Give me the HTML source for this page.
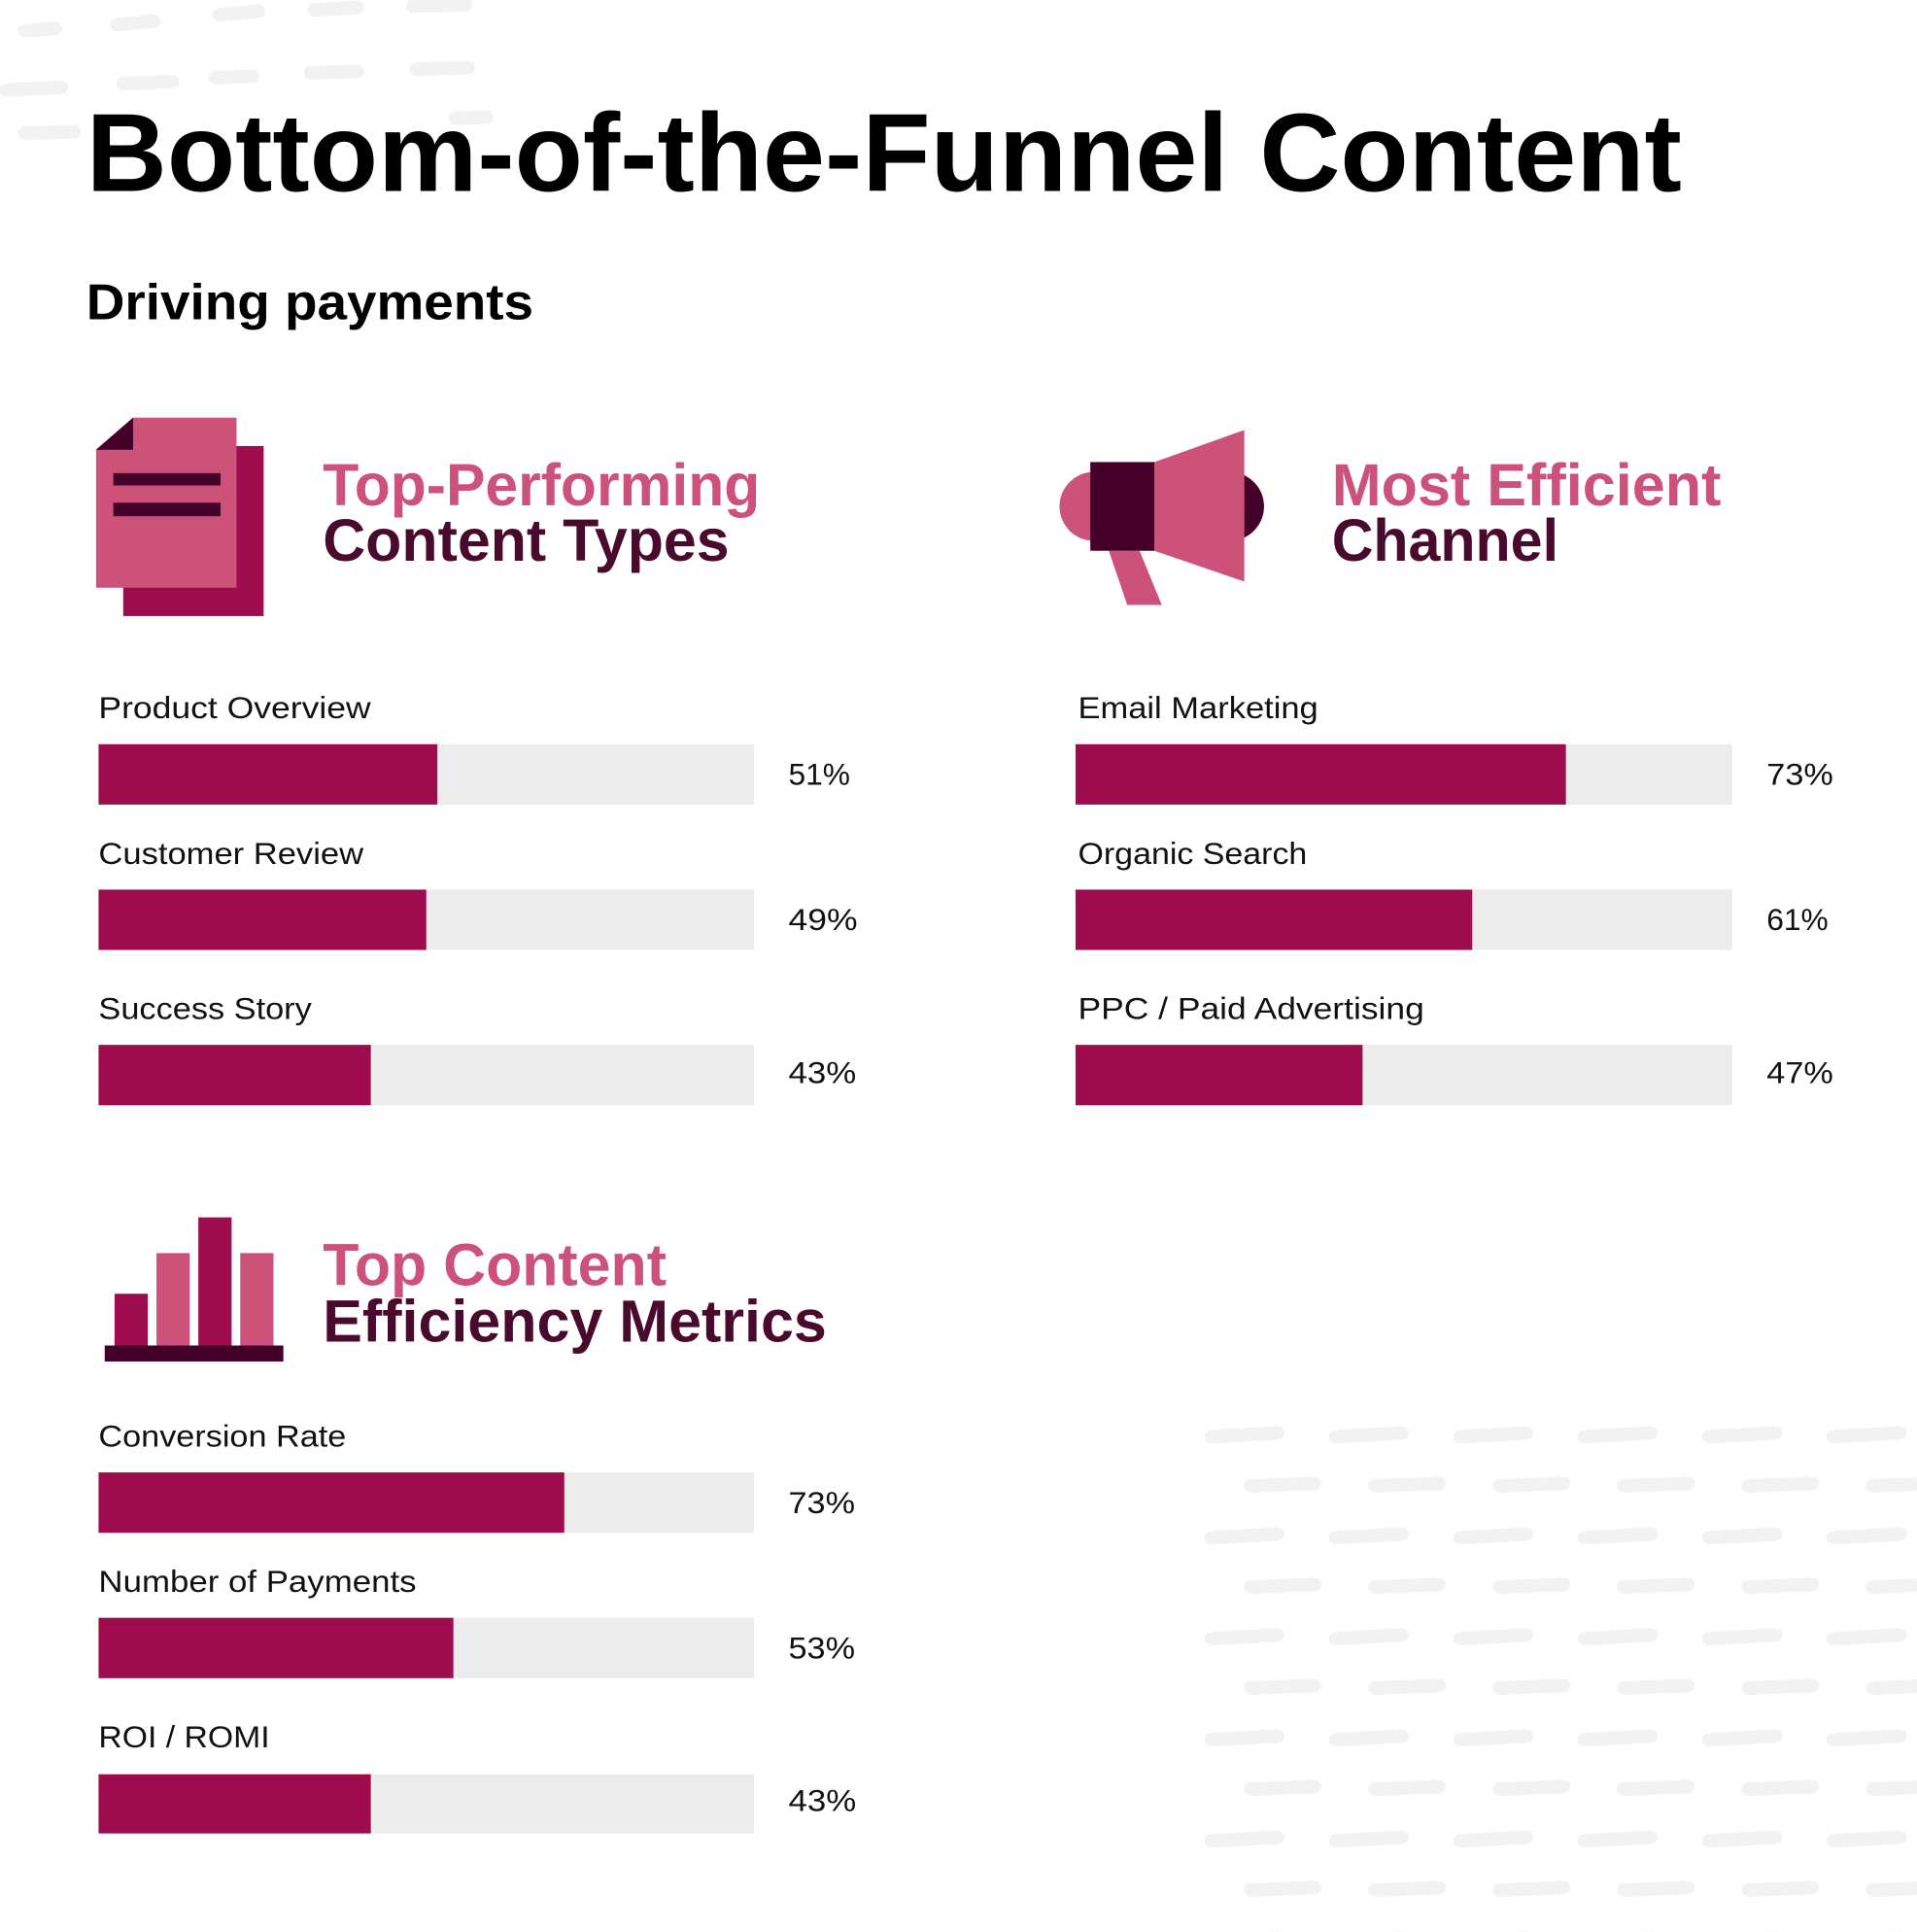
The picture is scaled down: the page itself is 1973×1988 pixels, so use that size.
<!DOCTYPE html>
<html><head><meta charset="utf-8"><style>
html,body{margin:0;padding:0;background:#fff;}
svg{display:block;}
text{font-family:"Liberation Sans",sans-serif;}
</style></head><body>
<svg width="1973" height="1988" viewBox="0 0 1556 1568" preserveAspectRatio="none" xmlns="http://www.w3.org/2000/svg">
<defs>
<pattern id="dash" x="975" y="1150" width="101" height="82" patternUnits="userSpaceOnUse">
<line x1="8" y1="16" x2="62" y2="13" stroke="#f2f2f3" stroke-width="11" stroke-linecap="round"/>
<line x1="40" y1="56" x2="92" y2="54" stroke="#f2f2f3" stroke-width="11" stroke-linecap="round"/>
</pattern>
</defs>
<rect x="975" y="1135" width="581" height="433" fill="url(#dash)"/>
<g stroke="#f2f2f3" stroke-width="11" stroke-linecap="round">
<line x1="20" y1="25" x2="45" y2="23"/><line x1="95" y1="20" x2="125" y2="17"/><line x1="178" y1="12" x2="210" y2="9"/><line x1="255" y1="8" x2="290" y2="6"/><line x1="335" y1="5" x2="378" y2="4"/>
<line x1="5" y1="73" x2="50" y2="71"/><line x1="100" y1="68" x2="140" y2="66"/><line x1="175" y1="63" x2="205" y2="62"/><line x1="252" y1="59" x2="290" y2="58"/><line x1="338" y1="56" x2="380" y2="55"/>
<line x1="20" y1="108" x2="60" y2="107"/><line x1="370" y1="96" x2="395" y2="95"/>
</g>
<text x="70" y="155" font-size="90" font-weight="bold" fill="#000" textLength="1295" lengthAdjust="spacingAndGlyphs">Bottom-of-the-Funnel Content</text>
<text x="70" y="259" font-size="41" font-weight="bold" fill="#000" textLength="363" lengthAdjust="spacingAndGlyphs">Driving payments</text>
<!-- doc icon -->
<rect x="100" y="362" width="114" height="138" fill="#9e0c4e"/>
<polygon points="108,339 192,339 192,477 78,477 78,365" fill="#cc527a"/>
<polygon points="78,365 108,339 108,365" fill="#45002a"/>
<rect x="92" y="384" width="87" height="10" fill="#45002a"/>
<rect x="92" y="408" width="87" height="11" fill="#45002a"/>
<text x="262" y="410" font-size="48" font-weight="bold" fill="#cc527a" textLength="355" lengthAdjust="spacingAndGlyphs">Top-Performing</text>
<text x="262" y="455" font-size="48" font-weight="bold" fill="#4a0a2e" textLength="330" lengthAdjust="spacingAndGlyphs">Content Types</text>
<!-- megaphone -->
<polygon points="900,447 925,447 943,491 915,491" fill="#cc527a"/>
<circle cx="998" cy="411" r="28" fill="#45002a"/>
<circle cx="888" cy="411" r="28" fill="#cc527a"/>
<polygon points="937,375 1010,349 1010,472 937,447" fill="#cc527a"/>
<rect x="885" y="375" width="52" height="72" fill="#45002a"/>
<text x="1081" y="410" font-size="48" font-weight="bold" fill="#cc527a" textLength="316" lengthAdjust="spacingAndGlyphs">Most Efficient</text>
<text x="1081" y="455" font-size="48" font-weight="bold" fill="#4a0a2e" textLength="184" lengthAdjust="spacingAndGlyphs">Channel</text>
<!-- bar icon -->
<rect x="93" y="1050" width="27" height="42" fill="#9e0c4e"/>
<rect x="127" y="1017" width="27" height="75" fill="#cc527a"/>
<rect x="161" y="988" width="27" height="104" fill="#9e0c4e"/>
<rect x="195" y="1017" width="27" height="75" fill="#cc527a"/>
<rect x="85" y="1092" width="145" height="13" fill="#45002a"/>
<text x="262" y="1043" font-size="48" font-weight="bold" fill="#cc527a" textLength="279" lengthAdjust="spacingAndGlyphs">Top Content</text>
<text x="262" y="1089" font-size="48" font-weight="bold" fill="#4a0a2e" textLength="409" lengthAdjust="spacingAndGlyphs">Efficiency Metrics</text>
<g font-size="25" fill="#111">
<!-- left rows -->
<text x="80" y="583" textLength="221" lengthAdjust="spacingAndGlyphs">Product Overview</text>
<rect x="80" y="604" width="532" height="49" fill="#ececec"/><rect x="80" y="604" width="275" height="49" fill="#9e0c4e"/>
<text x="640" y="637" textLength="50" lengthAdjust="spacingAndGlyphs">51%</text>
<text x="80" y="701" textLength="215" lengthAdjust="spacingAndGlyphs">Customer Review</text>
<rect x="80" y="722" width="532" height="49" fill="#ececec"/><rect x="80" y="722" width="266" height="49" fill="#9e0c4e"/>
<text x="640" y="755" textLength="56" lengthAdjust="spacingAndGlyphs">49%</text>
<text x="80" y="827" textLength="173" lengthAdjust="spacingAndGlyphs">Success Story</text>
<rect x="80" y="848" width="532" height="49" fill="#ececec"/><rect x="80" y="848" width="221" height="49" fill="#9e0c4e"/>
<text x="640" y="879" textLength="55" lengthAdjust="spacingAndGlyphs">43%</text>
<!-- right rows -->
<text x="875" y="583" textLength="195" lengthAdjust="spacingAndGlyphs">Email Marketing</text>
<rect x="873" y="604" width="533" height="49" fill="#ececec"/><rect x="873" y="604" width="398" height="49" fill="#9e0c4e"/>
<text x="1434" y="637" textLength="54" lengthAdjust="spacingAndGlyphs">73%</text>
<text x="875" y="701" textLength="186" lengthAdjust="spacingAndGlyphs">Organic Search</text>
<rect x="873" y="722" width="533" height="49" fill="#ececec"/><rect x="873" y="722" width="322" height="49" fill="#9e0c4e"/>
<text x="1434" y="755" textLength="50" lengthAdjust="spacingAndGlyphs">61%</text>
<text x="875" y="827" textLength="281" lengthAdjust="spacingAndGlyphs">PPC / Paid Advertising</text>
<rect x="873" y="848" width="533" height="49" fill="#ececec"/><rect x="873" y="848" width="233" height="49" fill="#9e0c4e"/>
<text x="1434" y="879" textLength="54" lengthAdjust="spacingAndGlyphs">47%</text>
<!-- bottom rows -->
<text x="80" y="1174" textLength="201" lengthAdjust="spacingAndGlyphs">Conversion Rate</text>
<rect x="80" y="1195" width="532" height="49" fill="#ececec"/><rect x="80" y="1195" width="378" height="49" fill="#9e0c4e"/>
<text x="640" y="1228" textLength="54" lengthAdjust="spacingAndGlyphs">73%</text>
<text x="80" y="1292" textLength="258" lengthAdjust="spacingAndGlyphs">Number of Payments</text>
<rect x="80" y="1313" width="532" height="49" fill="#ececec"/><rect x="80" y="1313" width="288" height="49" fill="#9e0c4e"/>
<text x="640" y="1346" textLength="54" lengthAdjust="spacingAndGlyphs">53%</text>
<text x="80" y="1418" textLength="139" lengthAdjust="spacingAndGlyphs">ROI / ROMI</text>
<rect x="80" y="1440" width="532" height="48" fill="#ececec"/><rect x="80" y="1440" width="221" height="48" fill="#9e0c4e"/>
<text x="640" y="1470" textLength="55" lengthAdjust="spacingAndGlyphs">43%</text>
</g>
</svg>
</body></html>
